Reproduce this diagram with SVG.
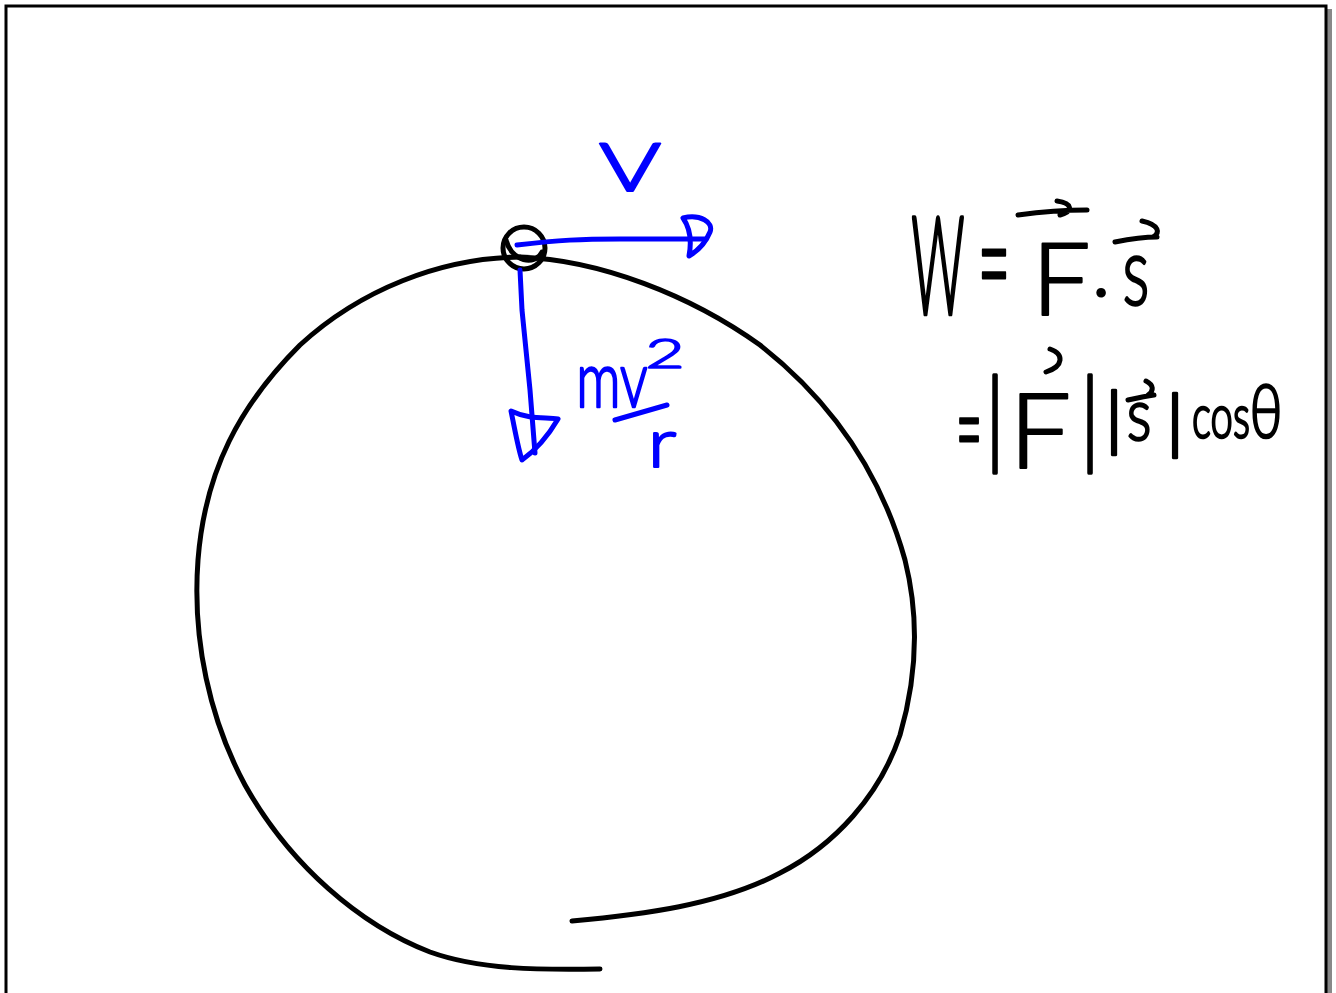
<svg xmlns="http://www.w3.org/2000/svg" width="1336" height="993" viewBox="0 0 1336 993">
<style>
.ink{fill:none;stroke:#000;stroke-width:5;stroke-linecap:round;stroke-linejoin:round}
.blue{fill:none;stroke:#0000ff;stroke-width:5;stroke-linecap:round;stroke-linejoin:round}
.hw{font-family:Lato,"DejaVu Sans",sans-serif;font-weight:300;font-size:100px;text-anchor:middle;stroke-width:2.2;stroke-linejoin:round;vector-effect:non-scaling-stroke}
.tb{fill:#0000ff;stroke:#0000ff}
.tk{fill:#000;stroke:#000}
</style>
<rect width="1336" height="993" fill="#fff"/>
<g id="frame">
<rect x="1327" y="9" width="5" height="990" fill="#888"/>
<path d="M6,1000 L6,6 L1326,6 L1326,1000" fill="none" stroke="#000" stroke-width="3"/>
</g>
<g id="track">
<path class="ink" d="M520,257 C600,260 690,295 760,345 C830,400 880,470 905,560 C920,620 916,680 900,735 C880,795 835,845 780,873 C720,905 640,915 572,921"/>
<path class="ink" d="M520,257 C440,258 360,290 300,345 C240,405 205,470 198,560 C192,640 210,720 245,785 C290,865 360,925 430,952 C480,970 540,970 600,969"/>
</g>
<g id="ball">
<circle class="ink" cx="524" cy="248" r="21"/>
<path class="ink" d="M506,240 C512,262 535,266 542,252" stroke-width="3"/>
</g>
<g id="connectors">
<path class="blue" d="M517,245 C560,240 580,239 620,239 L706,239"/>
<path class="blue" d="M683,218 C700,214 714,222 710,232 C705,244 696,252 689,256 C692,240 690,228 683,218 Z"/>
<path class="blue" d="M520,270 L522,310 L530,390 L535,453"/>
<path class="blue" d="M511,411 C515,430 518,448 522,460 C536,450 548,436 558,419 C545,417 530,420 511,411 Z"/>
</g>
<g id="label-v">
<text class="hw tb" transform="translate(630,191) scale(1.3,0.95)">v</text>
</g>
<g id="label-force">
<text class="hw tb" transform="translate(612,407) scale(0.55,0.78)">mv</text>
<text class="hw tb" transform="translate(665,368) scale(0.68,0.42)">2</text>
<path class="blue" d="M615,420 L667,405"/>
<text class="hw tb" transform="translate(662,467) scale(0.82,0.69)">r</text>
</g>
<g id="equation-1">
<text class="hw tk" transform="translate(938,314) scale(0.52,1.36)" style="stroke-width:3.5">W</text>
<text class="hw tk" transform="translate(994,313) scale(0.56,1.45)">=</text>
<text class="hw tk" transform="translate(1061,315) scale(1.04,1.0)">F</text>
<text class="hw tk" transform="translate(1101,296) scale(0.8,0.8)">.</text>
<text class="hw tk" transform="translate(1136,305) scale(0.63,0.94)">s</text>
<path class="ink" d="M1018,215 C1040,212 1065,210 1087,210 M1057,201 C1072,203 1074,211 1060,215"/>
<path class="ink" d="M1115,242 C1130,239 1145,237 1157,237 M1142,221 C1160,225 1160,233 1153,237"/>
</g>
<g id="equation-2">
<text class="hw tk" transform="translate(969,469) scale(0.45,1.15)">=</text>
<text class="hw tk" transform="translate(995,454) scale(0.8,1.05)" style="stroke-width:3">|</text>
<text class="hw tk" transform="translate(1040,468) scale(1.1,1.04)">F</text>
<path class="ink" d="M1050,349 C1064,354 1064,366 1046,372"/>
<text class="hw tk" transform="translate(1090,454) scale(0.8,1.05)" style="stroke-width:3">|</text>
<text class="hw tk" transform="translate(1114,443) scale(0.8,0.68)" style="stroke-width:3">|</text>
<text class="hw tk" transform="translate(1139,440) scale(0.58,0.73)">s</text>
<path class="ink" d="M1128,400 C1137,398 1146,396 1154,395 M1146,381 C1154,385 1154,391 1148,395"/>
<text class="hw tk" transform="translate(1175,446) scale(0.8,0.68)" style="stroke-width:3">|</text>
<text class="hw tk" transform="translate(1221,438) scale(0.4,0.62)">cos</text>
<text class="hw tk" transform="translate(1266,438) scale(0.56,0.75)">θ</text>
</g>
</svg>
